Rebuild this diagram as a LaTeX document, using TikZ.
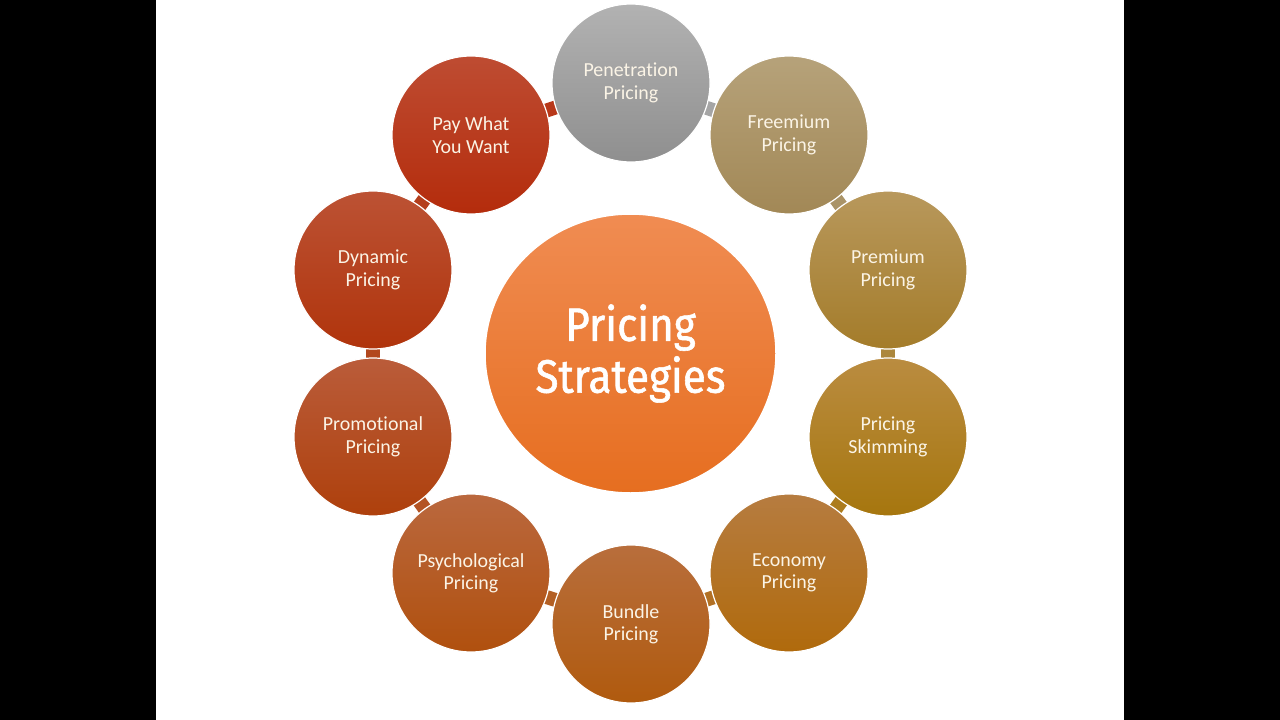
\documentclass[tikz,border=0pt]{standalone}
\usepackage{fontspec}
\setmainfont[Ligatures=NoCommon]{Carlito}
\newfontfamily\titlefont[FakeStretch=0.9, FakeBold=1.2]{Fira Sans}
\usetikzlibrary{shapes.geometric}
\definecolor{txt}{HTML}{FBF4E6}
\tikzset{
  pcirc/.style={circle, minimum size=158bp, inner sep=0pt, draw=white, line width=1.2bp,
    text=txt, align=center, font=\fontsize{20}{22.5}\selectfont},
  link/.style={line width=14bp},
}
\begin{document}
\begin{tikzpicture}[x=1bp,y=-1bp]
\useasboundingbox (0,0) rectangle (1280,720);
\fill[black] (0,0) rectangle (156,720);
\fill[black] (1124,0) rectangle (1280,720);
% coordinates
\coordinate (c1) at (631,83);
\coordinate (c2) at (789,135);
\coordinate (c3) at (888,270);
\coordinate (c4) at (888,437);
\coordinate (c5) at (789,573);
\coordinate (c6) at (631,624);
\coordinate (c7) at (471,573);
\coordinate (c8) at (373,437);
\coordinate (c9) at (373,270);
\coordinate (c10) at (471,135);
% ring links
\draw[link, color={rgb,255:red,165;green,165;blue,165}] (c1) -- (c2);
\draw[link, color={rgb,255:red,170;green,148;blue,104}] (c2) -- (c3);
\draw[link, color={rgb,255:red,172;green,135;blue,60}] (c3) -- (c4);
\draw[link, color={rgb,255:red,172;green,124;blue,30}] (c4) -- (c5);
\draw[link, color={rgb,255:red,178;green,112;blue,36}] (c5) -- (c6);
\draw[link, color={rgb,255:red,180;green,96;blue,36}] (c6) -- (c7);
\draw[link, color={rgb,255:red,180;green,84;blue,36}] (c7) -- (c8);
\draw[link, color={rgb,255:red,178;green,72;blue,30}] (c8) -- (c9);
\draw[link, color={rgb,255:red,180;green,62;blue,28}] (c9) -- (c10);
\draw[link, color={rgb,255:red,184;green,56;blue,26}] (c10) -- (c1);
% circles
\node[pcirc, top color={rgb,255:red,178;green,178;blue,178}, bottom color={rgb,255:red,143;green,143;blue,143}] (n1) at (c1) {Penetration\\Pricing};
\node[pcirc, top color={rgb,255:red,182;green,162;blue,122}, bottom color={rgb,255:red,162;green,136;blue,86}] (n2) at (c2) {Freemium\\Pricing};
\node[pcirc, top color={rgb,255:red,184;green,152;blue,92}, bottom color={rgb,255:red,164;green,124;blue,42}] (n3) at (c3) {Premium\\Pricing};
\node[pcirc, top color={rgb,255:red,186;green,140;blue,64}, bottom color={rgb,255:red,166;green,118;blue,14}] (n4) at (c4) {Pricing\\Skimming};
\node[pcirc, top color={rgb,255:red,182;green,124;blue,64}, bottom color={rgb,255:red,176;green,106;blue,12}] (n5) at (c5) {Economy\\Pricing};
\node[pcirc, top color={rgb,255:red,184;green,110;blue,60}, bottom color={rgb,255:red,176;green,90;blue,14}] (n6) at (c6) {Bundle\\Pricing};
\node[pcirc, top color={rgb,255:red,186;green,104;blue,62}, bottom color={rgb,255:red,176;green,80;blue,14}] (n7) at (c7) {Psychological\\Pricing};
\node[pcirc, top color={rgb,255:red,186;green,92;blue,58}, bottom color={rgb,255:red,174;green,64;blue,12}] (n8) at (c8) {Promotional\\Pricing};
\node[pcirc, top color={rgb,255:red,188;green,82;blue,52}, bottom color={rgb,255:red,176;green,52;blue,12}] (n9) at (c9) {Dynamic\\Pricing};
\node[pcirc, top color={rgb,255:red,190;green,76;blue,50}, bottom color={rgb,255:red,180;green,44;blue,12}] (n10) at (c10) {Pay What\\You Want};
% centre
\node[ellipse, minimum width=291bp, minimum height=279bp, inner sep=0pt, draw=white, line width=1.5bp,
  top color={rgb,255:red,240;green,140;blue,82}, bottom color={rgb,255:red,230;green,110;blue,32},
  text=white, align=center, font=\titlefont\fontsize{47}{52}\selectfont] (hub) at (630.5,353.5) {Pricing\\Strategies};
\end{tikzpicture}
\end{document}
